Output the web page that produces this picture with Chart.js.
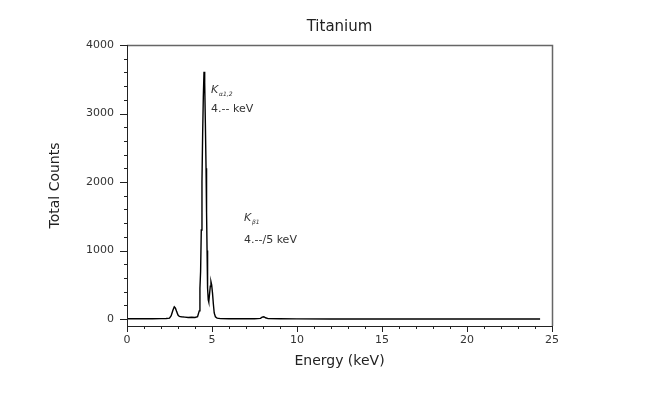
<!DOCTYPE html>
<html>
<head>
<meta charset="utf-8">
<script src="https://cdn.jsdelivr.net/npm/chart.js@4/dist/chart.umd.min.js"></script>
<style>
  html, body { margin: 0; padding: 0; background: #fff; }
  #wrap { width: 646px; height: 393px; }
</style>
</head>
<body>
<div id="wrap"><canvas id="espectro" width="646" height="393"></canvas></div>
<script>
const energia = [0, 0.5, 1.0, 1.5, 2.0, 2.3, 2.5, 2.6, 2.7, 2.78, 2.85, 2.92, 3.0, 3.08, 3.2, 3.4, 3.6, 3.8, 4.0,
  4.15, 4.25, 4.29, 4.33, 4.37, 4.41, 4.45, 4.49, 4.53, 4.57, 4.61, 4.65, 4.68, 4.71, 4.74, 4.78, 4.81, 4.85,
  4.9, 4.94, 4.98, 5.03, 5.08, 5.13, 5.2, 5.3, 5.5, 6.0, 6.5, 7.0, 7.5, 7.85, 7.95, 8.05, 8.15, 8.3, 9.0,
  10, 12, 14, 16, 18, 20, 22, 24.3];
const cuentas = [5, 5, 5, 5, 8, 10, 15, 50, 130, 180, 160, 110, 60, 40, 35, 30, 25, 28, 25,
  35, 120, 450, 700, 1300, 2000, 2700, 3250, 3610, 3450, 2860, 2200, 1560, 1000, 450, 280, 250, 350,
  480, 545, 500, 380, 220, 90, 35, 15, 8, 5, 5, 5, 6, 12, 30, 35, 20, 8, 5,
  4, 3, 3, 3, 2, 2, 2, 2];

// Marcas de los ejes
const ticksX = [0, 5, 10, 15, 20, 25];
const ticksXMenores = [1, 2, 3, 4, 6, 7, 8, 9, 11, 12, 13, 14, 16, 17, 18, 19, 21, 22, 23, 24];
const ticksY = [0, 1000, 2000, 3000, 4000];
const ticksYMenores = [200, 400, 600, 800, 1200, 1400, 1600, 1800, 2200, 2400, 2600, 2800, 3200, 3400, 3600, 3800];

const fuente = 'DejaVu Sans';
const gris = '#333';

// Dibuja el marco, las marcas hacia fuera y las etiquetas de los picos
const marcoPlugin = {
    id: 'marco',
    afterDraw(chart) {
        const { ctx, chartArea: a, scales } = chart;
        const sx = scales.x, sy = scales.y;
        ctx.save();
        // bordes superior y derecho
        ctx.strokeStyle = '#666';
        ctx.lineWidth = 1.5;
        ctx.beginPath();
        ctx.moveTo(a.left, a.top + 0.5);
        ctx.lineTo(a.right + 0.5, a.top + 0.5);
        ctx.lineTo(a.right + 0.5, a.bottom);
        ctx.stroke();
        // ejes izquierdo e inferior
        ctx.strokeStyle = '#222';
        ctx.lineWidth = 1;
        ctx.beginPath();
        ctx.moveTo(a.left + 0.5, a.top);
        ctx.lineTo(a.left + 0.5, a.bottom + 0.5);
        ctx.lineTo(a.right, a.bottom + 0.5);
        ctx.stroke();
        ctx.beginPath();
        ticksX.forEach(v => {
            const px = Math.round(sx.getPixelForValue(v)) + 0.5;
            ctx.moveTo(px, a.bottom); ctx.lineTo(px, a.bottom + 6);
        });
        ticksXMenores.forEach(v => {
            const px = Math.round(sx.getPixelForValue(v)) + 0.5;
            ctx.moveTo(px, a.bottom); ctx.lineTo(px, a.bottom + 3);
        });
        ticksY.forEach(v => {
            const py = Math.round(sy.getPixelForValue(v)) + 0.5;
            ctx.moveTo(a.left, py); ctx.lineTo(a.left - 7, py);
        });
        ticksYMenores.forEach(v => {
            const py = Math.round(sy.getPixelForValue(v)) + 0.5;
            ctx.moveTo(a.left, py); ctx.lineTo(a.left - 3, py);
        });
        ctx.stroke();

        // etiquetas de los picos
        ctx.fillStyle = gris;
        ctx.textBaseline = 'alphabetic';
        ctx.textAlign = 'left';
        ctx.font = 'italic 11px ' + fuente;
        ctx.fillText('K', 211, 93);
        ctx.fillText('K', 244, 221);
        ctx.font = 'italic 6px ' + fuente;
        ctx.fillText('α1,2', 219, 96);
        ctx.fillText('β1', 252, 224);
        ctx.font = '11px ' + fuente;
        ctx.fillText('4.-- keV', 211, 112);
        ctx.fillText('4.--/5 keV', 244, 243);
        ctx.restore();
    }
};

const ctx = document.getElementById('espectro').getContext('2d');
const grafico = new Chart(ctx, {
    type: 'line',
    data: {
        datasets: [{
            label: 'Titanium',
            data: energia.map((e, i) => ({ x: e, y: cuentas[i] })),
            borderColor: '#000',
            borderWidth: 1.4,
            pointRadius: 0,
            tension: 0,
            fill: false
        }]
    },
    options: {
        responsive: false,
        animation: false,
        layout: { padding: { left: 0, right: 94, top: 0, bottom: 0 } },
        scales: {
            x: {
                type: 'linear',
                min: 0,
                max: 25,
                grid: { display: false, drawTicks: false },
                border: { display: false },
                afterBuildTicks: s => { s.ticks = ticksX.map(v => ({ value: v })); },
                afterFit: s => { s.height = 67; },
                ticks: { padding: 7.5, color: gris, font: { family: fuente, size: 11 }, callback: v => String(v) },
                title: {
                    display: true,
                    text: 'Energy (keV)',
                    color: '#222',
                    font: { family: fuente, size: 14 },
                    padding: { top: 23, bottom: 23 }
                }
            },
            y: {
                min: -100,
                max: 4000,
                grid: { display: false, drawTicks: false },
                border: { display: false },
                afterBuildTicks: s => { s.ticks = ticksY.map(v => ({ value: v })); },
                afterFit: s => { s.width = 127; },
                ticks: { padding: 13, color: gris, font: { family: fuente, size: 11 }, callback: v => String(v) },
                title: {
                    display: true,
                    text: 'Total Counts',
                    color: '#222',
                    font: { family: fuente, size: 14 },
                    padding: { top: 47, bottom: 47 }
                }
            }
        },
        plugins: {
            legend: { display: false },
            tooltip: { enabled: false },
            title: {
                display: true,
                fullSize: false,
                text: 'Titanium',
                color: '#222',
                font: { family: fuente, size: 15, weight: 'normal' },
                padding: { top: 18, bottom: 9 }
            }
        }
    },
    plugins: [marcoPlugin]
});
</script>
</body>
</html>
